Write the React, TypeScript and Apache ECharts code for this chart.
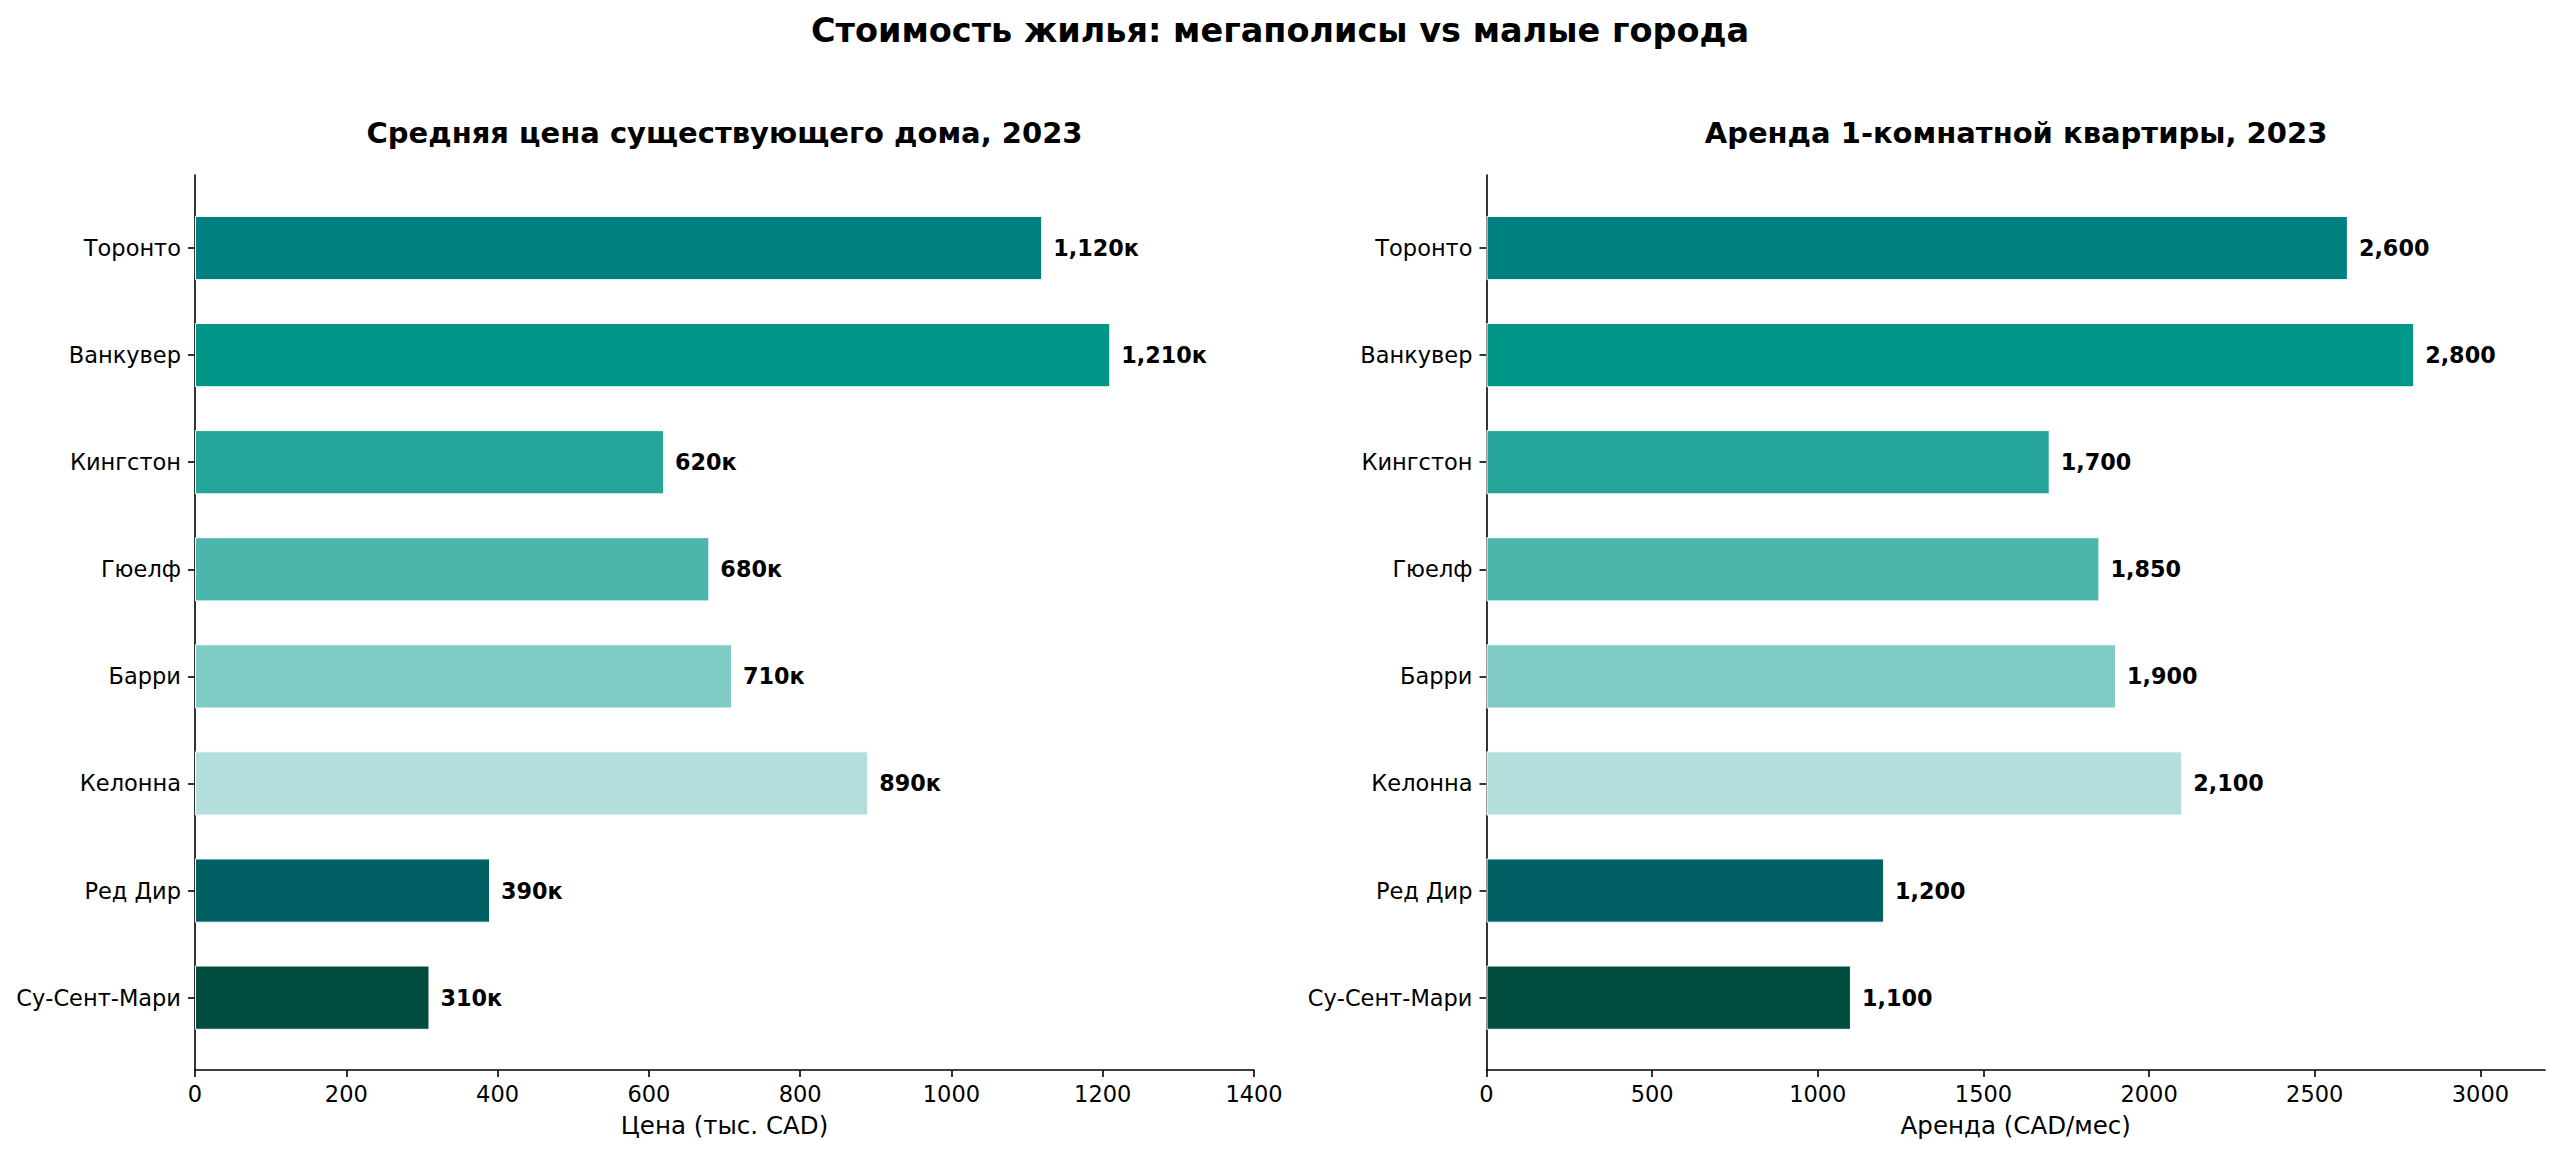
import React, { useEffect, useRef } from "react";
import * as echarts from "echarts";

const cities = ["Торонто", "Ванкувер", "Кингстон", "Гюелф", "Барри", "Келонна", "Ред Дир", "Су-Сент-Мари"];
const housePrices = [1120, 1210, 620, 680, 710, 890, 390, 310];
const rents = [2600, 2800, 1700, 1850, 1900, 2100, 1200, 1100];
const barColors = ["#008080", "#009688", "#26a69a", "#4db6ac", "#80cbc4", "#b2dfdb", "#006064", "#004d40"];
const leftTicks = [0, 200, 400, 600, 800, 1000, 1200, 1400];
const rightTicks = [0, 500, 1000, 1500, 2000, 2500, 3000];

const suptitle = "Стоимость жилья: мегаполисы vs малые города";
const leftTitle = "Средняя цена существующего дома, 2023";
const rightTitle = "Аренда 1-комнатной квартиры, 2023";
const leftXName = "Цена (тыс. CAD)";
const rightXName = "Аренда (CAD/мес)";

const FONT = "DejaVu Sans";

export default function App() {
  const ref = useRef<HTMLDivElement>(null);
  useEffect(() => {
    if (!ref.current) return;
    const chart = echarts.init(ref.current, null, { renderer: "svg" });

    const plotTop = 175;
    const plotBottom = 1070;
    const bandTop = 194.5;
    const bandBottom = 1051.2;
    const panels = [
      { left: 195, width: 1059, max: 1400, ticks: leftTicks, name: leftXName, data: housePrices, fmt: (v: number) => v.toLocaleString("en-US") + "к" },
      { left: 1486.5, width: 1058.5, max: 3195, ticks: rightTicks, name: rightXName, data: rents, fmt: (v: number) => v.toLocaleString("en-US") },
    ];

    const grid: any[] = [];
    const xAxis: any[] = [];
    const yAxis: any[] = [];
    const series: any[] = [];
    panels.forEach((p, i) => {
      grid.push({ left: p.left, width: p.width, top: plotTop, height: plotBottom - plotTop, containLabel: false });
      grid.push({ left: p.left, width: p.width, top: bandTop, height: bandBottom - bandTop, containLabel: false });
      const gA = i * 2;
      const gB = i * 2 + 1;
      xAxis.push({
        type: "value",
        gridIndex: gA,
        min: 0,
        max: p.max,
        splitLine: { show: false },
        axisLine: { show: true, lineStyle: { color: "#000", width: 1.6 } },
        axisTick: { show: true, length: 7, lineStyle: { color: "#000", width: 1.6 }, customValues: p.ticks },
        axisLabel: { show: true, margin: 12, fontSize: 22.5, color: "#000", fontFamily: FONT, customValues: p.ticks, formatter: (v: number) => String(v) },
        name: p.name,
        nameLocation: "middle",
        nameGap: 43,
        nameTextStyle: { fontSize: 24.5, color: "#000", fontFamily: FONT },
      });
      yAxis.push({
        type: "value",
        gridIndex: gA,
        min: 0,
        max: 1,
        axisLine: { show: true, lineStyle: { color: "#000", width: 1.6 } },
        axisTick: { show: false },
        axisLabel: { show: false },
        splitLine: { show: false },
      });
      xAxis.push({
        type: "value",
        gridIndex: gB,
        min: 0,
        max: p.max,
        show: false,
      });
      yAxis.push({
        type: "category",
        gridIndex: gB,
        data: cities,
        inverse: true,
        axisLine: { show: false },
        axisTick: { show: true, alignWithLabel: true, length: 7, lineStyle: { color: "#000", width: 1.6 } },
        axisLabel: { margin: 14, fontSize: 22.5, color: "#000", fontFamily: FONT },
        splitLine: { show: false },
      });
      series.push({
        type: "bar",
        xAxisIndex: gB,
        yAxisIndex: gB,
        barWidth: "60%",
        data: p.data.map((v, k) => ({ value: v, itemStyle: { color: barColors[k] } })),
        itemStyle: { borderColor: "#ffffff", borderWidth: 1 },
        label: {
          show: true,
          position: "right",
          distance: 11,
          fontSize: 22.3,
          fontWeight: "bold",
          color: "#000",
          fontFamily: FONT,
          formatter: (params: any) => p.fmt(params.value),
        },
      });
    });

    chart.setOption({
      animation: false,
      backgroundColor: "#ffffff",
      textStyle: { fontFamily: FONT },
      grid,
      xAxis,
      yAxis,
      series,
      graphic: [
        { type: "text", x: 1280, y: 30, style: { text: suptitle, align: "center", verticalAlign: "middle", font: `bold 33.5px "${FONT}"`, fill: "#000" } },
        { type: "text", x: 724.5, y: 133, style: { text: leftTitle, align: "center", verticalAlign: "middle", font: `bold 29px "${FONT}"`, fill: "#000" } },
        { type: "text", x: 2016, y: 133, style: { text: rightTitle, align: "center", verticalAlign: "middle", font: `bold 29px "${FONT}"`, fill: "#000" } },
      ],
    });
    return () => chart.dispose();
  }, []);
  return <div ref={ref} style={{ position: "fixed", left: 0, top: 0, width: 2560, height: 1157, background: "#fff" }} />;
}
